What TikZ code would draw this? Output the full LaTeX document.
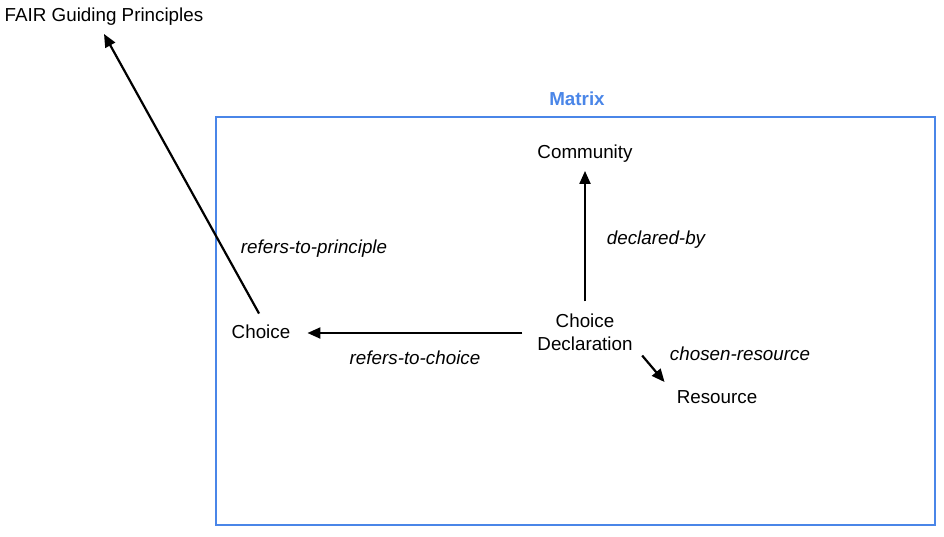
\documentclass[tikz,border=0pt]{standalone}
\usepackage{fontspec}
\setmainfont{Liberation Sans}
\usetikzlibrary{arrows.meta}
\definecolor{mblue}{RGB}{74,134,232}
\begin{document}
\begin{tikzpicture}[x=1pt,y=-1pt,
  every node/.style={font=\fontsize{18.8}{23}\selectfont},
  ent/.style={inner xsep=12pt, inner ysep=8pt, text height=13.5pt, text depth=4pt, align=center},
  ent2/.style={inner xsep=12pt, inner ysep=8pt, align=center},
  lbl/.style={font=\fontsize{18.8}{23}\selectfont\itshape, inner sep=0pt},
  arr/.style={line width=2.2pt, -{Triangle[length=13pt,width=11pt]}}]
\useasboundingbox (0,0) rectangle (944,536);
\fill[white] (0,0) rectangle (944,536);
\draw[mblue, line width=2pt] (216,117) rectangle (935,525);
\node[font=\fontsize{18.8}{23}\selectfont\bfseries, text=mblue] (mtitle) at (577,99) {Matrix};
\node[ent] (fair) at (104,17) {FAIR Guiding Principles};
\node[ent] (comm) at (585,154) {Community};
\node[ent2] (decl) at (585,332) {Choice\\Declaration};
\node[ent] (choice) at (261,334) {Choice};
\node[ent] (res) at (717,399) {Resource};
\draw[arr, shorten <=4pt] (decl.north) -- (comm.south);
\draw[arr, shorten <=3pt, shorten >=5pt] ([yshift=-1pt]decl.west) -- ([yshift=-1pt]decl.west -| choice.east);
\draw[arr, shorten <=4pt] (choice.north) -- (fair.south);
\draw[arr, shorten <=-4pt] (decl.south east) -- (res.north west);
\node[lbl] (l1) at (656,240) {declared-by};
\node[lbl] (l2) at (314,249) {refers-to-principle};
\node[lbl] (l3) at (415,358) {refers-to-choice};
\node[lbl] (l4) at (740,354) {chosen-resource};
\end{tikzpicture}
\end{document}
